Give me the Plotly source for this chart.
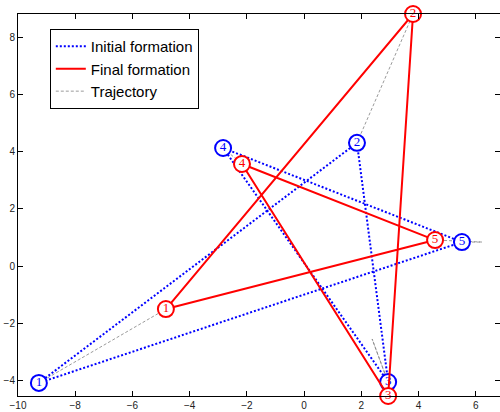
import plotly.graph_objects as go

# Node labels
node_labels = ["1", "2", "3", "4", "5"]

# Initial formation positions
init_x = [-9.27, 1.85, 2.94, -2.83, 5.52]
init_y = [-4.10, 4.32, -4.07, 4.14, 0.84]

# Final formation positions
final_x = [-4.83, 3.81, 2.94, -2.17, 4.58]
final_y = [-1.51, 8.84, -4.56, 3.58, 0.91]

# Trajectories (one list of points per node)
traj_x = [
    [-9.27, -4.83],
    [1.85, 3.81],
    [2.94, 2.38, 2.94, 2.94],
    [-2.83, -2.17],
    [5.52, 6.22, 4.58],
]
traj_y = [
    [-4.10, -1.51],
    [4.32, 8.84],
    [-4.07, -2.56, -4.10, -4.56],
    [4.14, 3.58],
    [0.84, 0.84, 0.91],
]

x_ticks = [-10, -8, -6, -4, -2, 0, 2, 4, 6]
y_ticks = [-4, -2, 0, 2, 4, 6, 8]

BLUE = "#0000ff"
RED = "#ff0000"
GRAY = "#808080"

fig = go.Figure()

# Trajectories
tx, ty = [], []
for xs, ys in zip(traj_x, traj_y):
    tx += xs + [None]
    ty += ys + [None]
fig.add_trace(go.Scatter(
    x=tx, y=ty, mode="lines", name="Trajectory", legendrank=3,
    line=dict(color=GRAY, width=0.8, dash="3px,2px"), cliponaxis=False,
))

def closed(v):
    return list(v) + [v[0]]

# Initial formation
fig.add_trace(go.Scatter(
    x=closed(init_x), y=closed(init_y), mode="lines", name="Initial formation",
    legendrank=1, line=dict(color=BLUE, width=2, dash="2px,2px"),
))
fig.add_trace(go.Scatter(
    x=init_x, y=init_y, mode="markers+text", text=node_labels, showlegend=False,
    marker=dict(size=16, color="white", line=dict(color=BLUE, width=2)),
    textposition="middle center",
    textfont=dict(family="Liberation Serif", size=13, color=BLUE),
    cliponaxis=False,
))

# Final formation
fig.add_trace(go.Scatter(
    x=closed(final_x), y=closed(final_y), mode="lines", name="Final formation",
    legendrank=2, line=dict(color=RED, width=2),
))
fig.add_trace(go.Scatter(
    x=final_x, y=final_y, mode="markers+text", text=node_labels, showlegend=False,
    marker=dict(size=16, color="white", line=dict(color=RED, width=2)),
    textposition="middle center",
    textfont=dict(family="Liberation Serif", size=13, color=RED),
    cliponaxis=False,
))

axis_common = dict(
    showgrid=False, zeroline=False, showline=True, linecolor="black", linewidth=1,
    mirror="ticks", ticks="inside", ticklen=5, tickcolor="black",
    tickfont=dict(family="Liberation Sans", size=10, color="#222222"),
    automargin=False,
)

fig.update_layout(
    width=500, height=412,
    margin=dict(l=18, r=0, t=14, b=16),
    paper_bgcolor="white", plot_bgcolor="white",
    xaxis=dict(range=[-10, 6.85], tickvals=x_ticks, **axis_common),
    yaxis=dict(range=[-4.56, 8.84], tickvals=y_ticks, **axis_common),
    showlegend=True,
    legend=dict(
        x=0.066, y=0.961, xanchor="left", yanchor="top",
        bgcolor="white", bordercolor="black", borderwidth=1,
        font=dict(family="Liberation Sans", size=15, color="black"),
        tracegroupgap=0,
    ),
)

fig.write_html("out.html", config={"displayModeBar": False},
               post_script="document.body.style.margin='0';")
